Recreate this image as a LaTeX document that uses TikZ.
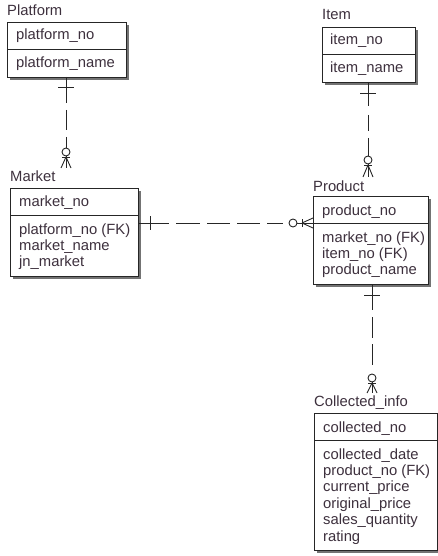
\documentclass[tikz,border=0pt]{standalone}
\usepackage{fontspec}
\setmainfont{Liberation Sans}
\definecolor{tc}{rgb}{0.24,0.19,0.24}
\definecolor{lc}{rgb}{0.15,0.15,0.15}
\begin{document}
\begin{tikzpicture}[x=1pt,y=-1pt,
  ent/.style={draw=lc, line width=0.9pt, fill=white, inner sep=0pt, anchor=north west, rectangle},
  divl/.style={draw=lc, line width=0.9pt},
  shd/.style={fill=black!55},
  txt/.style={inner sep=0pt, anchor=base west, font=\fontsize{14.8}{16.4}\selectfont, text=tc},
  rel/.style={draw=lc, line width=0.9pt},
  mk/.style={draw=lc, line width=0.9pt},
]
\useasboundingbox (0,0) rectangle (438,556);

% ---------- Platform ----------
\fill[shd] (10,25) rectangle (129,80);
\node[ent, minimum width=119pt, minimum height=55pt] (plat) at (7,22) {};
\draw[divl] (plat.west |- 0,49) -- (plat.east |- 0,49);
\node[txt] (platT) at (7,16) {Platform};
\node[txt] (platK) at (16,40) {platform\_no};
\node[txt] (platA) at (16,68) {platform\_name};

% ---------- Item ----------
\fill[shd] (325,30) rectangle (418,85);
\node[ent, minimum width=93pt, minimum height=55pt] (item) at (322,27) {};
\draw[divl] (item.west |- 0,54) -- (item.east |- 0,54);
\node[txt] (itemT) at (322,20) {Item};
\node[txt] (itemK) at (330,45) {item\_no};
\node[txt] (itemA) at (330,73) {item\_name};

% ---------- Market ----------
\fill[shd] (13,191) rectangle (141,279);
\node[ent, minimum width=128pt, minimum height=88pt] (mkt) at (10,188) {};
\draw[divl] (mkt.west |- 0,215) -- (mkt.east |- 0,215);
\node[txt] (mktT) at (10,182) {Market};
\node[txt] (mktK) at (19,206) {market\_no};
\node[txt] (mktA1) at (19,234) {platform\_no (FK)};
\node[txt] (mktA2) at (19,250.4) {market\_name};
\node[txt] (mktA3) at (19,266.8) {jn\_market};

% ---------- Product ----------
\fill[shd] (316,199) rectangle (431,287);
\node[ent, minimum width=115pt, minimum height=88pt] (prod) at (313,196) {};
\draw[divl] (prod.west |- 0,223) -- (prod.east |- 0,223);
\node[txt] (prodT) at (313,191) {Product};
\node[txt] (prodK) at (322,215) {product\_no};
\node[txt] (prodA1) at (322,242) {market\_no (FK)};
\node[txt] (prodA2) at (322,258.4) {item\_no (FK)};
\node[txt] (prodA3) at (322,274.8) {product\_name};

% ---------- Collected_info ----------
\fill[shd] (317,416) rectangle (440,553);
\node[ent, minimum width=123pt, minimum height=137pt] (coll) at (314,413) {};
\draw[divl] (coll.west |- 0,440) -- (coll.east |- 0,440);
\node[txt] (collT) at (314,406) {Collected\_info};
\node[txt] (collK) at (323,432) {collected\_no};
\node[txt] (collA1) at (323,459) {collected\_date};
\node[txt] (collA2) at (323,475.4) {product\_no (FK)};
\node[txt] (collA3) at (323,491.8) {current\_price};
\node[txt] (collA4) at (323,508.2) {original\_price};
\node[txt] (collA5) at (323,524.6) {sales\_quantity};
\node[txt] (collA6) at (323,541) {rating};

% ---------- connector ends ----------
\coordinate (c1s) at (66,77);  \coordinate (c1o) at (66,152); \coordinate (c1e) at (66,168);
\coordinate (c2s) at (368,82); \coordinate (c2o) at (368,160); \coordinate (c2e) at (368,177);
\coordinate (c3s) at (138,223); \coordinate (c3o) at (293,223); \coordinate (c3e) at (313,223);
\coordinate (c4s) at (372,284); \coordinate (c4o) at (372,378); \coordinate (c4e) at (372,393);

% Platform -> Market
\draw[rel, dash pattern=on 26pt off 7pt on 20pt off 7pt on 40pt off 0pt] (c1s) -- ([yshift=4pt]c1o);
\draw[mk] (58,87) -- (74,87);
\draw[mk] (c1o) circle (4pt);
\draw[mk] ([yshift=-4pt]c1o) -- (c1e);
\draw[mk] (62,157) -- (70,157);
\draw[mk] (66,157) -- (61,168) (66,157) -- (71,168);

% Item -> Product
\draw[rel, dash pattern=on 24pt off 9pt on 16pt off 7pt on 40pt off 0pt] (c2s) -- ([yshift=4pt]c2o);
\draw[mk] (360,93) -- (376,93);
\draw[mk] (c2o) circle (4pt);
\draw[mk] ([yshift=-4pt]c2o) -- (c2e);
\draw[mk] (364,165) -- (372,165);
\draw[mk] (368,165) -- (363,177) (368,165) -- (373,177);

% Market -> Product
\draw[rel, dash pattern=on 31pt off 7pt on 24pt off 7pt on 23pt off 7pt on 23pt off 7pt on 16pt off 6pt] (c3s) -- ([xshift=-4pt]c3o);
\draw[mk] (150,216) -- (150,230);
\draw[mk] (c3o) circle (4pt);
\draw[mk] ([xshift=4pt]c3o) -- (c3e);
\draw[mk] (302,219) -- (302,227);
\draw[mk] (302,223) -- (313,218) (302,223) -- (313,228);

% Product -> Collected_info
\draw[rel, dash pattern=on 26pt off 7pt on 21pt off 6pt on 21pt off 9pt] (c4s) -- ([yshift=4pt]c4o);
\draw[mk] (364,295) -- (380,295);
\draw[mk] (c4o) circle (4pt);
\draw[mk] ([yshift=-4pt]c4o) -- (c4e);
\draw[mk] (368,383) -- (376,383);
\draw[mk] (372,383) -- (367,393) (372,383) -- (377,393);
\end{tikzpicture}
\end{document}
